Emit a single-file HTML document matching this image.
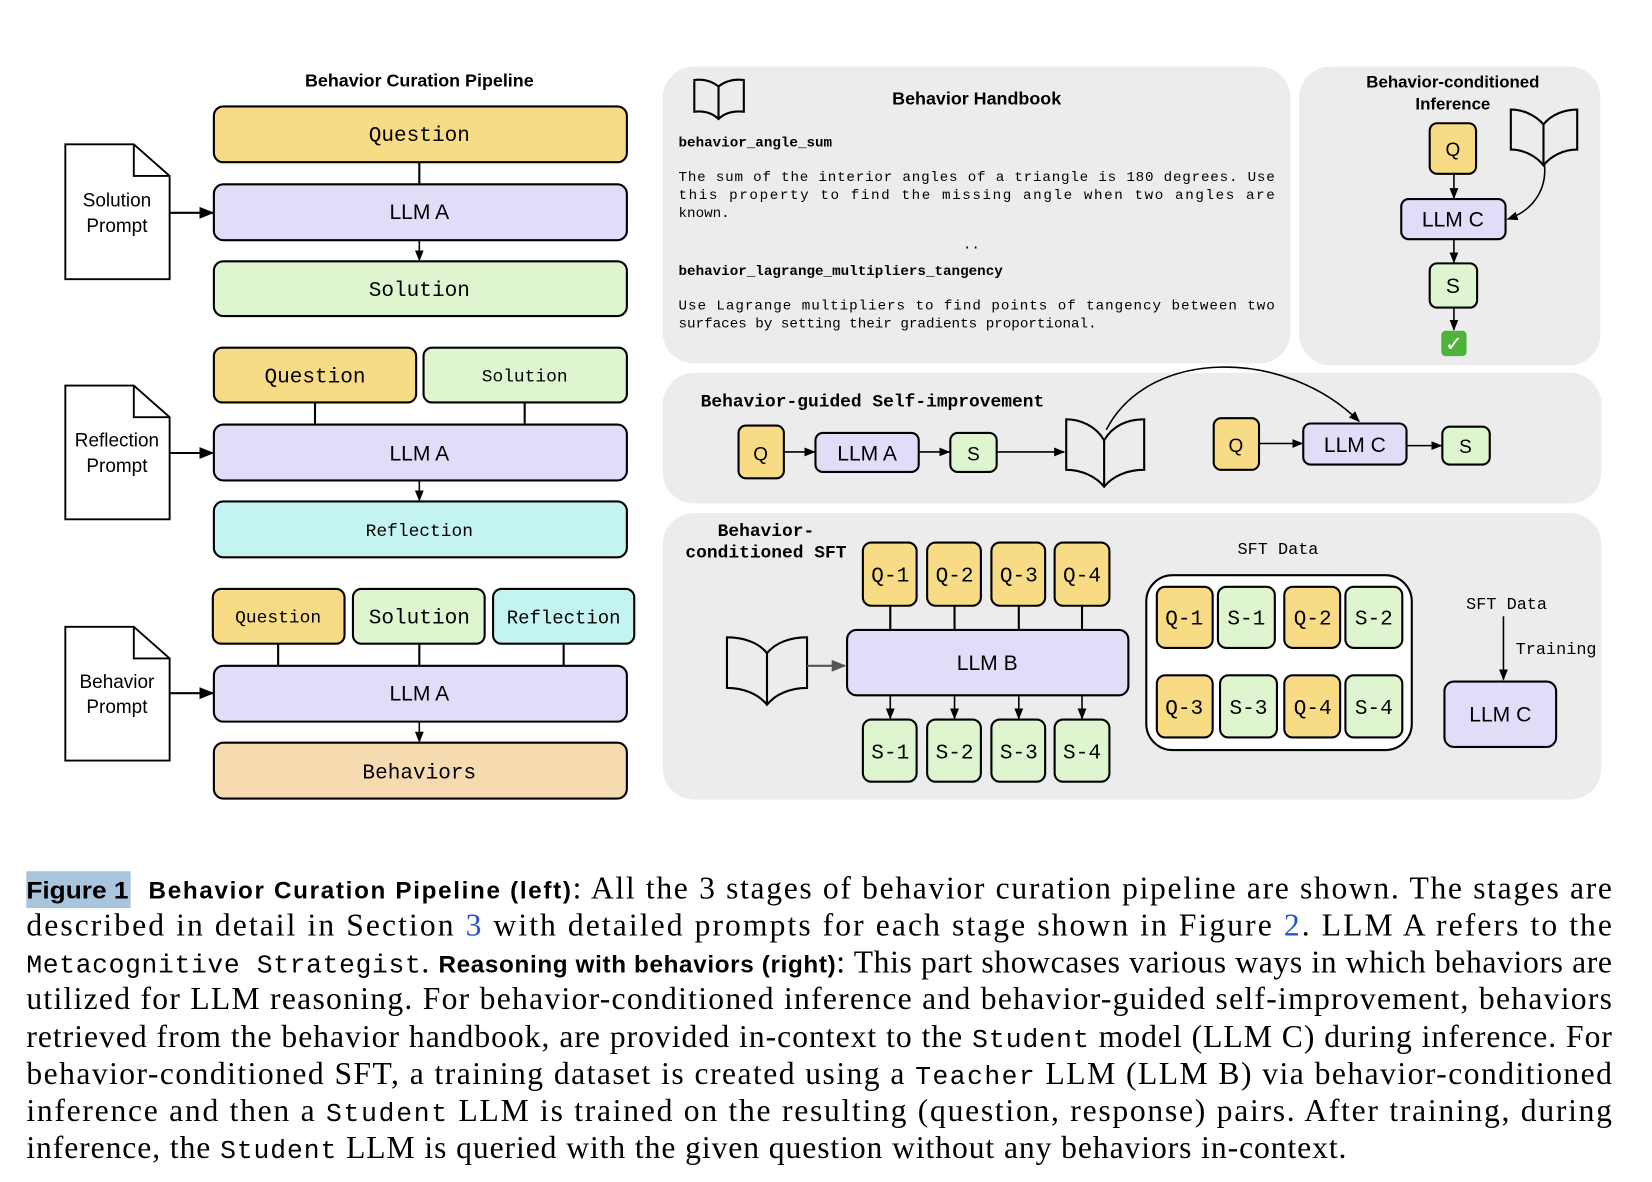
<!DOCTYPE html>
<html><head><meta charset="utf-8"><style>
html,body{margin:0;padding:0;background:#fff;}
svg{display:block}
.m{font-family:"Liberation Mono",monospace}
.s{font-family:"Liberation Sans",sans-serif}
.r{font-family:"Liberation Serif",serif}
</style></head><body>
<svg width="1652" height="1182" viewBox="0 0 1568 1122" preserveAspectRatio="none" xmlns="http://www.w3.org/2000/svg">
<defs>
<marker id="a" viewBox="0 0 10 10" refX="9" refY="5" markerWidth="7" markerHeight="7" orient="auto"><path d="M0,1 L10,5 L0,9 z" fill="#000"/></marker>
<marker id="g" viewBox="0 0 10 10" refX="9" refY="5" markerWidth="7" markerHeight="7" orient="auto"><path d="M0,1 L10,5 L0,9 z" fill="#555"/></marker>
</defs>
<g stroke="#000" stroke-width="2">
<rect x="203" y="101" width="392" height="53" rx="9" fill="#f8dc85"/>
<rect x="203" y="175" width="392" height="53" rx="9" fill="#e2dcf8"/>
<rect x="203" y="248" width="392" height="52" rx="9" fill="#dff5d0"/>
<line x1="398" y1="154" x2="398" y2="175"/>
<line x1="398" y1="228" x2="398" y2="247" marker-end="url(#a)" stroke-width="1.5"/>
<rect x="203" y="330" width="192" height="52" rx="8" fill="#f8dc85"/>
<rect x="402" y="330" width="193" height="52" rx="8" fill="#dff5d0"/>
<rect x="203" y="403" width="392" height="53" rx="9" fill="#e2dcf8"/>
<rect x="203" y="476" width="392" height="53" rx="9" fill="#c4f4f1"/>
<line x1="299" y1="382" x2="299" y2="403"/><line x1="498" y1="382" x2="498" y2="403"/>
<line x1="398" y1="456" x2="398" y2="475" marker-end="url(#a)" stroke-width="1.5"/>
<rect x="202" y="559" width="125" height="52" rx="8" fill="#f8dc85"/>
<rect x="335" y="559" width="125" height="52" rx="8" fill="#dff5d0"/>
<rect x="468" y="559" width="134" height="52" rx="8" fill="#c4f4f1"/>
<rect x="203" y="632" width="392" height="53" rx="9" fill="#e2dcf8"/>
<rect x="203" y="705" width="392" height="53" rx="9" fill="#f6dab0"/>
<line x1="264" y1="611" x2="264" y2="632"/><line x1="398" y1="611" x2="398" y2="632"/><line x1="535" y1="611" x2="535" y2="632"/>
<line x1="398" y1="685" x2="398" y2="704" marker-end="url(#a)" stroke-width="1.5"/>
<g fill="#fff" stroke-width="1.8">
<path d="M62,137 H127 L161,167 V265 H62 Z"/><path d="M127,137 V167 H161" fill="none"/>
<path d="M62,366 H127 L161,396 V493 H62 Z"/><path d="M127,366 V396 H161" fill="none"/>
<path d="M62,595 H127 L161,625 V722 H62 Z"/><path d="M127,595 V625 H161" fill="none"/>
</g>
<line x1="162" y1="202" x2="202" y2="202" marker-end="url(#a)"/>
<line x1="162" y1="430" x2="202" y2="430" marker-end="url(#a)"/>
<line x1="162" y1="658" x2="202" y2="658" marker-end="url(#a)"/>
</g>
<g class="m" font-size="20" text-anchor="middle">
<text x="398" y="134">Question</text><text x="398" y="281">Solution</text>
<text x="299" y="363">Question</text><text x="498" y="362" font-size="17">Solution</text>
<text x="398" y="509" font-size="17">Reflection</text>
<text x="264" y="591" font-size="17">Question</text><text x="398" y="592">Solution</text><text x="535" y="592" font-size="18">Reflection</text>
<text x="398" y="739">Behaviors</text>
</g>
<g class="s" font-size="20" text-anchor="middle">
<text x="398" y="208">LLM A</text><text x="398" y="437">LLM A</text><text x="398" y="665">LLM A</text>
<text x="111" y="196" font-size="18">Solution</text><text x="111" y="220" font-size="18">Prompt</text>
<text x="111" y="424" font-size="18">Reflection</text><text x="111" y="448" font-size="18">Prompt</text>
<text x="111" y="653" font-size="18">Behavior</text><text x="111" y="677" font-size="18">Prompt</text>
<text x="398" y="82" font-size="17" font-weight="bold">Behavior Curation Pipeline</text>
</g>
<g fill="#ececec">
<rect x="629" y="63" width="596" height="282" rx="30"/>
<rect x="1233" y="63" width="286" height="284" rx="30"/>
<rect x="629" y="354" width="891" height="124" rx="30"/>
<rect x="629" y="487" width="891" height="272" rx="30"/>
</g>
<g fill="none" stroke="#000" stroke-width="2">
<path d="M682,82 C674,76 666,75 659,76 V106 C668,105 676,107 682,113 C688,107 696,105 706,106 V76 C698,75 690,76 682,82 Z M682,82 V113"/>
<path d="M1465,118 C1456,108 1444,104 1434,104 V142 C1446,142 1458,148 1465,157 C1472,148 1484,142 1497,142 V104 C1486,104 1473,108 1465,118 Z M1465,118 V157"/>
<path d="M1048,418 C1040,404 1025,398 1012,398 V446 C1026,446 1040,452 1048,462 C1056,452 1070,446 1086,446 V398 C1070,398 1056,404 1048,418 Z M1048,418 V462"/>
<path d="M728,620 C720,610 706,605 690,605 V653 C706,653 720,659 728,669 C736,659 750,653 766,653 V605 C750,605 736,610 728,620 Z M728,620 V669"/>
</g>
<g class="m" font-size="13.5">
<text x="644" y="139" font-weight="bold">behavior_angle_sum</text>
<text x="644" y="172" textLength="566" lengthAdjust="spacing">The sum of the interior angles of a triangle is 180 degrees. Use</text>
<text x="644" y="189" textLength="566" lengthAdjust="spacing">this property to find the missing angle when two angles are</text>
<text x="644" y="206">known.</text>
<text x="922" y="236" text-anchor="middle">..</text>
<text x="644" y="261" font-weight="bold">behavior_lagrange_multipliers_tangency</text>
<text x="644" y="294" textLength="566" lengthAdjust="spacing">Use Lagrange multipliers to find points of tangency between two</text>
<text x="644" y="311">surfaces by setting their gradients proportional.</text>
</g>
<text class="s" x="927" y="99" font-size="17" font-weight="bold" text-anchor="middle">Behavior Handbook</text>
<text class="s" x="1379" y="83" font-size="16" font-weight="bold" text-anchor="middle">Behavior-conditioned</text>
<text class="s" x="1379" y="104" font-size="16" font-weight="bold" text-anchor="middle">Inference</text>
<g stroke="#000" stroke-width="2">
<rect x="1357" y="117" width="44" height="48" rx="7" fill="#f8dc85"/>
<rect x="1330" y="189" width="99" height="38" rx="7" fill="#e2dcf8"/>
<rect x="1357" y="250" width="45" height="42" rx="7" fill="#dff5d0"/>
<g stroke-width="1.5"><line x1="1380" y1="165" x2="1380" y2="188" marker-end="url(#a)"/>
<line x1="1380" y1="227" x2="1380" y2="249" marker-end="url(#a)"/>
<line x1="1380" y1="292" x2="1380" y2="313" marker-end="url(#a)"/>
<path d="M1466,157 C1468,180 1455,200 1431,208" fill="none" marker-end="url(#a)"/></g>
</g>
<rect x="1368" y="314" width="24" height="24" rx="4" fill="#4db33a"/>
<text x="1380" y="333" font-size="20" fill="#fff" text-anchor="middle" class="s">✓</text>
<g class="s" font-size="20" text-anchor="middle">
<text x="1379" y="148" font-size="18">Q</text><text x="1379" y="215">LLM C</text><text x="1379" y="278">S</text>
</g>
<text class="m" x="665" y="386" font-size="17" font-weight="bold">Behavior-guided Self-improvement</text>
<g stroke="#000" stroke-width="2">
<rect x="701" y="404" width="43" height="50" rx="7" fill="#f8dc85"/>
<rect x="774" y="411" width="98" height="37" rx="7" fill="#e2dcf8"/>
<rect x="902" y="411" width="44" height="37" rx="7" fill="#dff5d0"/>
<rect x="1152" y="397" width="43" height="49" rx="7" fill="#f8dc85"/>
<rect x="1237" y="402" width="98" height="39" rx="7" fill="#e2dcf8"/>
<rect x="1369" y="405" width="45" height="36" rx="7" fill="#dff5d0"/>
<g stroke-width="1.5">
<line x1="744" y1="429" x2="773" y2="429" marker-end="url(#a)"/>
<line x1="872" y1="429" x2="901" y2="429" marker-end="url(#a)"/>
<line x1="946" y1="429" x2="1010" y2="429" marker-end="url(#a)"/>
<line x1="1195" y1="421" x2="1236" y2="421" marker-end="url(#a)"/>
<line x1="1335" y1="423" x2="1368" y2="423" marker-end="url(#a)"/>
<path d="M1050,408 C1090,330 1220,330 1290,400" fill="none" marker-end="url(#a)"/>
</g></g>
<g class="s" font-size="20" text-anchor="middle">
<text x="722" y="437" font-size="18">Q</text><text x="823" y="437">LLM A</text><text x="924" y="437" font-size="18">S</text>
<text x="1173" y="429" font-size="18">Q</text><text x="1286" y="429">LLM C</text><text x="1391" y="430" font-size="18">S</text>
</g>
<text class="m" x="727" y="509" font-size="17" font-weight="bold" text-anchor="middle">Behavior-</text>
<text class="m" x="727" y="529" font-size="17" font-weight="bold" text-anchor="middle">conditioned SFT</text>
<rect x="1088" y="546" width="252" height="166" rx="25" fill="#fff" stroke="#000" stroke-width="2"/>
<g stroke="#000" stroke-width="2">
<line x1="845" y1="575" x2="845" y2="598"/><line x1="906" y1="575" x2="906" y2="598"/><line x1="967" y1="575" x2="967" y2="598"/><line x1="1027" y1="575" x2="1027" y2="598"/>
<rect x="804" y="598" width="267" height="62" rx="9" fill="#e2dcf8"/>
<g stroke-width="1.5">
<line x1="845" y1="660" x2="845" y2="682" marker-end="url(#a)"/><line x1="906" y1="660" x2="906" y2="682" marker-end="url(#a)"/><line x1="967" y1="660" x2="967" y2="682" marker-end="url(#a)"/><line x1="1027" y1="660" x2="1027" y2="682" marker-end="url(#a)"/>
<line x1="1427" y1="585" x2="1427" y2="645" marker-end="url(#a)"/>
</g>
<line x1="766" y1="632" x2="802" y2="632" stroke="#555" marker-end="url(#g)"/>
<g fill="#f8dc85">
<rect x="819" y="515" width="51" height="60" rx="8"/><rect x="880" y="515" width="51" height="60" rx="8"/><rect x="941" y="515" width="51" height="60" rx="8"/><rect x="1001" y="515" width="52" height="60" rx="8"/>
<rect x="1098" y="557" width="53" height="58" rx="8"/><rect x="1219" y="557" width="53" height="58" rx="8"/>
<rect x="1098" y="641" width="53" height="59" rx="8"/><rect x="1219" y="641" width="53" height="59" rx="8"/>
</g>
<g fill="#dff5d0">
<rect x="819" y="683" width="51" height="59" rx="8"/><rect x="880" y="683" width="51" height="59" rx="8"/><rect x="941" y="683" width="51" height="59" rx="8"/><rect x="1001" y="683" width="52" height="59" rx="8"/>
<rect x="1156" y="557" width="54" height="58" rx="8"/><rect x="1277" y="557" width="54" height="58" rx="8"/>
<rect x="1158" y="641" width="54" height="59" rx="8"/><rect x="1277" y="641" width="54" height="59" rx="8"/>
</g>
<rect x="1371" y="647" width="106" height="62" rx="9" fill="#e2dcf8"/>
</g>
<g class="m" font-size="20" text-anchor="middle">
<text x="845" y="552">Q-1</text><text x="906" y="552">Q-2</text><text x="967" y="552">Q-3</text><text x="1027" y="552">Q-4</text>
<text x="845" y="720">S-1</text><text x="906" y="720">S-2</text><text x="967" y="720">S-3</text><text x="1027" y="720">S-4</text>
<text x="1124" y="593">Q-1</text><text x="1183" y="593">S-1</text><text x="1246" y="593">Q-2</text><text x="1304" y="593">S-2</text>
<text x="1124" y="678">Q-3</text><text x="1185" y="678">S-3</text><text x="1246" y="678">Q-4</text><text x="1304" y="678">S-4</text>
<text x="1213" y="526" font-size="16">SFT Data</text><text x="1430" y="578" font-size="16">SFT Data</text><text x="1477" y="621" font-size="16">Training</text>
</g>
<g class="s" font-size="20" text-anchor="middle"><text x="937" y="636">LLM B</text><text x="1424" y="685">LLM C</text></g>
<rect x="25" y="827" width="99" height="35" fill="#a9c4dd"/>
<g class="r" font-size="30">
<text x="25" y="853"><tspan class="s" font-weight="bold" font-size="23" textLength="97" lengthAdjust="spacingAndGlyphs">Figure 1</tspan></text>
<text x="141" y="853" textLength="1389" lengthAdjust="spacing"><tspan class="s" font-weight="bold" font-size="23">Behavior Curation Pipeline (left)</tspan>: All the 3 stages of behavior curation pipeline are shown. The stages are</text>
<text x="25" y="888" textLength="1505" lengthAdjust="spacing">described in detail in Section <tspan fill="#2255cc">3</tspan> with detailed prompts for each stage shown in Figure <tspan fill="#2255cc">2</tspan>. LLM A refers to the</text>
<text x="25" y="923" textLength="1505" lengthAdjust="spacing"><tspan class="m" font-size="25">Metacognitive Strategist</tspan>. <tspan class="s" font-weight="bold" font-size="23">Reasoning with behaviors (right)</tspan>: This part showcases various ways in which behaviors are</text>
<text x="25" y="958" textLength="1505" lengthAdjust="spacing">utilized for LLM reasoning. For behavior-conditioned inference and behavior-guided self-improvement, behaviors</text>
<text x="25" y="994" textLength="1505" lengthAdjust="spacing">retrieved from the behavior handbook, are provided in-context to the <tspan class="m" font-size="25">Student</tspan> model (LLM C) during inference. For</text>
<text x="25" y="1029" textLength="1505" lengthAdjust="spacing">behavior-conditioned SFT, a training dataset is created using a <tspan class="m" font-size="25">Teacher</tspan> LLM (LLM B) via behavior-conditioned</text>
<text x="25" y="1064" textLength="1505" lengthAdjust="spacing">inference and then a <tspan class="m" font-size="25">Student</tspan> LLM is trained on the resulting (question, response) pairs. After training, during</text>
<text x="25" y="1099" textLength="1253" lengthAdjust="spacing">inference, the <tspan class="m" font-size="25">Student</tspan> LLM is queried with the given question without any behaviors in-context.</text>
</g>
</svg>
</body></html>
